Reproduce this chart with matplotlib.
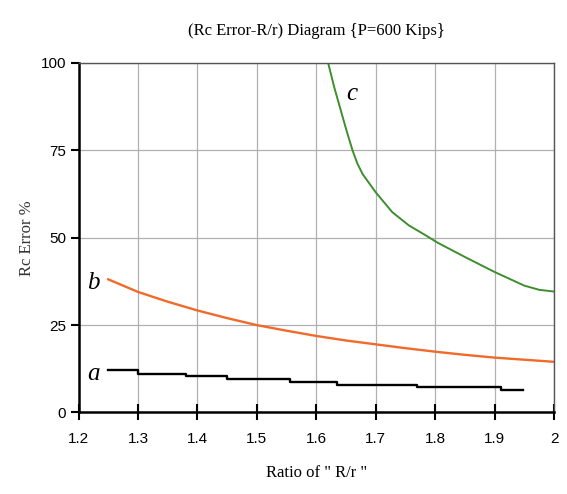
import matplotlib.pyplot as plt

# curve a (black, stepped)
a_x = [1.25, 1.30, 1.38, 1.45, 1.555, 1.635, 1.77, 1.91, 1.948]
a_y = [12.1, 11.1, 10.3, 9.6, 8.8, 8.0, 7.2, 6.5, 6.5]

# curve b (orange)
b_x = [1.25, 1.3, 1.35, 1.4, 1.45, 1.5, 1.55, 1.6, 1.65, 1.7, 1.75, 1.8, 1.85, 1.9, 1.95, 2.0]
b_y = [38.1, 34.5, 31.7, 29.2, 27.0, 25.0, 23.4, 21.9, 20.6, 19.5, 18.4, 17.4, 16.5, 15.7, 15.1, 14.5]

# curve c (green)
c_x = [1.620, 1.630, 1.641, 1.651, 1.661, 1.669, 1.678, 1.70, 1.728, 1.756, 1.784, 1.804,
       1.85, 1.90, 1.95, 1.975, 2.0]
c_y = [100.0, 93.2, 86.6, 80.6, 75.0, 71.3, 68.2, 63.0, 57.3, 53.5, 50.7, 48.6,
       44.5, 40.2, 36.3, 35.1, 34.6]

xticks = [1.2, 1.3, 1.4, 1.5, 1.6, 1.7, 1.8, 1.9, 2.0]
xtick_labels = ['1.2', '1.3', '1.4', '1.5', '1.6', '1.7', '1.8', '1.9', '2']
yticks = [0, 25, 50, 75, 100]

serif = 'Liberation Serif'
sans = 'Liberation Sans'

fig = plt.figure(figsize=(5.67, 4.94), dpi=100)
ax = fig.add_axes([0.1385, 0.165, 0.8386, 0.7075])

ax.plot(a_x, a_y, color='black', lw=1.7, drawstyle='steps-post')
ax.plot(b_x, b_y, color='#f06a2a', lw=1.7)
ax.plot(c_x, c_y, color='#3e8e2e', lw=1.4)

ax.text(1.215, 11.0, 'a', fontsize=18, style='italic', family=serif, va='center')
ax.text(1.215, 37.0, 'b', fontsize=18, style='italic', family=serif, va='center')
ax.text(1.650, 91.0, 'c', fontsize=18, style='italic', family=serif, va='center')

ax.set_xlim(1.2, 2.0)
ax.set_ylim(0, 100)
ax.set_xticks(xticks)
ax.set_xticklabels(xtick_labels, family=sans, fontsize=11)
ax.set_yticks(yticks)
ax.set_yticklabels([str(v) for v in yticks], family=sans, fontsize=11)
ax.grid(True, color='#b0b0b0', lw=0.9)
ax.tick_params(axis='y', direction='out', length=6, width=1.5, color='black', pad=3)
ax.tick_params(axis='x', direction='inout', length=12, width=1.5, color='black', pad=8)

for s in ['left', 'bottom']:
    ax.spines[s].set_linewidth(1.8)
    ax.spines[s].set_color('black')
for s in ['top', 'right']:
    ax.spines[s].set_linewidth(1.0)
    ax.spines[s].set_color('#555555')

ax.set_title('(Rc Error-R/r) Diagram {P=600 Kips}', family=serif, fontsize=12, pad=20)
ax.set_ylabel('Rc Error %', family=serif, fontsize=12, color='#333333', labelpad=4)
ax.set_xlabel('Ratio of " R/r "', family=serif, fontsize=12, labelpad=14)

fig.savefig('out.png', dpi=100)
